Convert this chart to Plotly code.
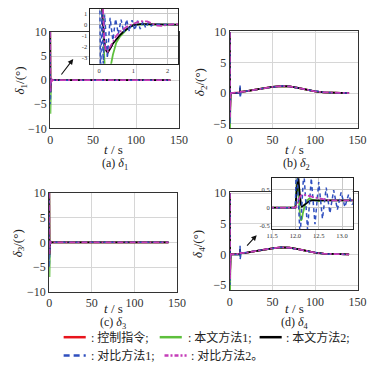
import plotly.graph_objects as go

# ---------------- data: delta1 / delta3 (transient 0-2.3 s, then flat to 140 s)
t13 = [0, 0.05, 0.1, 0.15, 0.2, 0.25, 0.3, 0.35, 0.4, 0.5, 0.6, 0.7, 0.8, 0.9, 1.0,
       1.1, 1.2, 1.3, 1.4, 1.5, 1.6, 1.7, 1.8, 1.9, 2.0, 2.1, 2.2, 2.3, 3, 140]
d13_red = [10, 6, 1, -1.5, -2.4, -2.4, -2.1, -1.8, -1.5, -1.0, -0.65, -0.4, -0.2, -0.05, 0.1,
           0.2, 0.3, 0.32, 0.28, 0.15, 0.0, -0.1, -0.12, -0.08, 0.0, 0.05, 0.05, 0.02, 0, 0]
d13_green = [10, 5, 0, -3, -6, -7, -5.5, -3.5, -2.7, -1.6, -1.1, -0.75, -0.45, -0.2, -0.05,
             0, 0.02, 0.02, 0.01, 0, 0, 0, 0, 0, 0, 0, 0, 0, 0, 0]
d13_black = [10, 4, 0.2, -1.5, -2.3, -2.5, -2.3, -2.0, -1.7, -1.3, -0.95, -0.65, -0.4, -0.2, -0.05,
             0.02, 0.05, 0.05, 0.04, 0.02, 0, 0, 0, 0, 0, 0, 0, 0, 0, 0]
d13_magenta = [10, 6, 1, -1.5, -2.4, -2.4, -2.1, -1.8, -1.5, -1.0, -0.65, -0.4, -0.2, -0.05, 0.1,
               0.2, 0.3, 0.32, 0.28, 0.15, 0.0, -0.1, -0.12, -0.08, 0.0, 0.05, 0.05, 0.02, 0, 0]
t13_blue = [0, 0.04, 0.08, 0.12, 0.16, 0.24, 0.32, 0.40, 0.48, 0.56, 0.64, 0.72, 0.80, 0.88,
            0.96, 1.04, 1.12, 1.20, 1.28, 1.36, 1.44, 1.52, 1.60, 1.8, 2.0, 2.3, 3, 140]
d13_blue = [10, -5, 1.2, -3.5, 0.9, -3.0, 0.6, -1.4, 0.5, -0.85, 0.45, -0.7, 0.45, -0.6,
            0.4, -0.5, 0.35, -0.4, 0.3, -0.3, 0.2, -0.12, 0.06, 0.0, 0.02, 0, 0, 0]

# ---------------- data: delta2 / delta4
t24_start = [0, 0.1, 0.2, 0.3, 0.5, 0.8, 1.5, 3, 6, 11.5, 12.0]
t24_event = [12.02, 12.04, 12.06, 12.08, 12.10, 12.12, 12.14, 12.16, 12.20, 12.25, 12.30,
             12.35, 12.40, 12.50, 12.60, 12.70, 12.80, 13.00, 13.20, 13.40]
t24_late = [15, 20, 30, 40, 50, 60, 65, 70, 80, 90, 100, 110, 120, 130, 140]
d24_late = [0.22, 0.3, 0.55, 0.8, 1.0, 1.15, 1.17, 1.1, 0.85, 0.55, 0.28, 0.12, 0.04, 0.01, 0]

d24_red_start = [10, 2, -4, -2, -0.8, -0.2, 0, 0, 0, 0, 0]
d24_green_start = [10, 0, -6.5, -4, -1, -0.3, 0, 0, 0, 0, 0]
d24_black_start = [10, 1, -3.5, -2, -0.8, -0.2, 0, 0, 0, 0, 0]
d24_magenta_start = [10, 2, -4, -2, -0.8, -0.2, 0, 0, 0, 0, 0]
d24_blue_start = [10, -5, 1, -3, 0.5, -0.3, 0, 0, 0, 0, 0]

d24_red_event = [0.05, 0.12, 0.2, 0.26, 0.3, 0.33, 0.35, 0.35, 0.35, 0.34, 0.32, 0.3, 0.28,
                 0.25, 0.22, 0.21, 0.2, 0.2, 0.2, 0.2]
d24_green_event = [0.4, 0.8, 0.5, 0.0, -0.25, -0.35, -0.3, -0.15, 0.05, 0.2, 0.25, 0.22, 0.2,
                   0.18, 0.2, 0.2, 0.2, 0.2, 0.2, 0.2]
d24_black_event = [0.35, 0.85, 0.9, 0.55, 0.2, 0.08, 0.03, 0.05, 0.1, 0.15, 0.18, 0.2, 0.2,
                   0.18, 0.19, 0.2, 0.2, 0.2, 0.2, 0.2]
d24_magenta_event = [0.05, 0.12, 0.2, 0.26, 0.3, 0.33, 0.35, 0.35, 0.35, 0.34, 0.32, 0.3, 0.28,
                     0.25, 0.22, 0.21, 0.2, 0.2, 0.2, 0.2]
t24_blue_event = [12.02, 12.10, 12.18, 12.26, 12.34, 12.42, 12.50, 12.58, 12.66, 12.74, 12.82,
                  12.90, 12.98, 13.06, 13.14, 13.22, 13.30, 13.38]
d24_blue_event = [1.4, -0.8, 1.0, -0.6, 0.8, -0.45, 0.7, -0.3, 0.55, -0.15, 0.48, -0.05,
                  0.42, 0.02, 0.36, 0.08, 0.32, 0.2]

# ---------------- legend labels / styles
series_names = [": 控制指令;", ": 本文方法1;", ": 本文方法2;", ": 对比方法1;", ": 对比方法2。"]
colors = ["#e8141c", "#5dbf3c", "#000000", "#2f4fbf", "#c43cb8"]
dashes = ["solid", "solid", "solid", "4px,3px", "6px,2px,2px,2px"]
legend_dashes = ["solid", "solid", "solid", "6px,4px", "4px,2px,2px,2px"]
widths = [1.8, 1.8, 1.8, 1.5, 1.8]

W, H = 381, 375
fig = go.Figure()


def add(x, y, k, xa, ya):
    fig.add_trace(go.Scatter(x=x, y=y, mode="lines",
                             line=dict(color=colors[k], width=widths[k], dash=dashes[k]),
                             xaxis=xa, yaxis=ya, showlegend=False, hoverinfo="skip"))


d13 = [(t13, d13_red), (t13, d13_green), (t13, d13_black), (t13_blue, d13_blue), (t13, d13_magenta)]
t24 = t24_start + t24_event + t24_late
t24b = t24_start + t24_blue_event + t24_late
d24 = [(t24, d24_red_start + d24_red_event + d24_late),
       (t24, d24_green_start + d24_green_event + d24_late),
       (t24, d24_black_start + d24_black_event + d24_late),
       (t24b, d24_blue_start + d24_blue_event + d24_late),
       (t24, d24_magenta_start + d24_magenta_event + d24_late)]

for xa, ya, data, inset in [("x", "y", d13, False), ("x2", "y2", d24, False),
                            ("x3", "y3", d13, False), ("x4", "y4", d24, False),
                            ("x5", "y5", d13, True), ("x6", "y6", d24, True)]:
    for k, (tx, vy) in enumerate(data):
        if inset and k == 0:
            continue  # command curve is fully covered in the zoomed views
        add(tx, vy, k, xa, ya)


def px_x(p):
    return p / W


def px_y(p):
    return 1 - p / H


SERIF = "Liberation Serif"
tickf = dict(family=SERIF, size=12, color="#333")
small = dict(family=SERIF, size=6.5, color="#333")


def main_x(l, r, anchor):
    return dict(domain=[px_x(l), px_x(r)], range=[0, 150], tickvals=[0, 50, 100, 150],
                showgrid=True, gridcolor="#d6d6d6", showline=True, mirror=True,
                linecolor="#333", linewidth=1.2, zeroline=False, ticks="",
                tickfont=tickf, anchor=anchor)


def main_y(t, b, rng, tv, anchor):
    return dict(domain=[px_y(b), px_y(t)], range=rng, tickvals=tv,
                showgrid=True, gridcolor="#d6d6d6", showline=True, mirror=True,
                linecolor="#333", linewidth=1.2, zeroline=False, ticks="",
                tickfont=tickf, anchor=anchor)


def inset_ax(lo, hi, rng, tv, tt, anchor):
    return dict(domain=[lo, hi], range=rng, tickvals=tv, ticktext=tt, showgrid=True,
                gridcolor="#c8c8c8", showline=True, mirror=True, linecolor="#222",
                linewidth=1.2, zeroline=False, ticks="", tickfont=small, anchor=anchor)


fig.update_layout(
    width=W, height=H, margin=dict(l=0, r=0, t=0, b=0), autosize=False,
    paper_bgcolor="white", plot_bgcolor="white", showlegend=False,
    xaxis=main_x(46, 180, "y"),
    yaxis=main_y(26, 126, [-10, 10], [-10, -5, 0, 5, 10], "x"),
    xaxis2=main_x(233, 366, "y2"),
    yaxis2=main_y(25, 126, [-5.8, 10.2], [-5, 0, 5, 10], "x2"),
    xaxis3=main_x(45, 178, "y3"),
    yaxis3=main_y(193, 296, [-10, 10], [-10, -5, 0, 5, 10], "x3"),
    xaxis4=main_x(233, 366, "y4"),
    yaxis4=main_y(192, 294, [-5.8, 10.2], [-5, 0, 5, 10], "x4"),
    xaxis5=inset_ax(px_x(87), px_x(179), [-0.28, 2.3], [0, 1, 2], ["0", "1", "2"], "y5"),
    yaxis5=inset_ax(px_y(59), px_y(2), [-3.5, 1.4], [-3, -2, -1, 0, 1],
                    ["-3", "-2", "-1", "0", "1"], "x5"),
    xaxis6=inset_ax(px_x(277), px_x(361), [11.5, 13.23], [11.5, 12, 12.5, 13],
                    ["11.5", "12.0", "12.5", "13.0"], "y6"),
    yaxis6=inset_ax(px_y(231), px_y(178), [-0.59, 0.8], [-0.5, 0, 0.5],
                    ["-0.5", "0", "0.5"], "x6"),
)

ann = []
ser = dict(family=SERIF, size=12, color="#222")
ytitle = dict(family=SERIF, size=13, color="#222")
C = dict(xref="paper", yref="paper", showarrow=False, xanchor="center", yanchor="middle")
for x, y, n in [(15, 76, 1), (202, 78, 2), (13, 245, 3), (201, 246, 4)]:
    ann.append(dict(x=px_x(x), y=px_y(y), text="<i>δ</i><sub>%d</sub>/(°)" % n,
                    textangle=-90, font=ytitle, **C))
for x, y in [(112, 148), (300, 148), (112, 313), (300, 313)]:
    ann.append(dict(x=px_x(x), y=px_y(y), text="<i>t</i> / s",
                    font=dict(family=SERIF, size=13, color="#222"), **C))
for x, y, lab, n in [(113, 163, "a", 1), (302, 163, "b", 2), (111, 328, "c", 3), (301, 328, "d", 4)]:
    ann.append(dict(x=px_x(x), y=px_y(y), text="(%s) <i>δ</i><sub>%d</sub>" % (lab, n),
                    font=ser, **C))
# arrows pointing to insets
for hx, hy, ax, ay in [(70, 54, -13, 17), (261, 237, -11, 12)]:
    ann.append(dict(x=px_x(hx), y=px_y(hy), xref="paper", yref="paper", text="",
                    showarrow=True, arrowhead=2, arrowsize=1, arrowwidth=1.1,
                    arrowcolor="#111", ax=ax, ay=ay))

# legend (line samples + labels)
leg_pos = [(60, 83, 343, 86), (160, 183, 343, 187), (264, 287, 343, 289),
           (60, 83, 362, 86), (165, 188, 362, 191)]
shapes = []
legf = dict(family="Liberation Serif, Noto Sans CJK SC", size=12, color="#222")
for k, (x0, x1, y, tx) in enumerate(leg_pos):
    shapes.append(dict(type="line", xref="paper", yref="paper", x0=px_x(x0), x1=px_x(x1),
                       y0=px_y(y), y1=px_y(y),
                       line=dict(color=colors[k], width=2.5, dash=legend_dashes[k])))
    ann.append(dict(x=px_x(tx), y=px_y(y), xref="paper", yref="paper", showarrow=False,
                    xanchor="left", yanchor="middle", text=series_names[k], font=legf))

fig.update_layout(annotations=ann, shapes=shapes)
fig.write_html("out.html", config={"displayModeBar": False, "responsive": False},
               post_script="document.body.style.margin='0px';")
